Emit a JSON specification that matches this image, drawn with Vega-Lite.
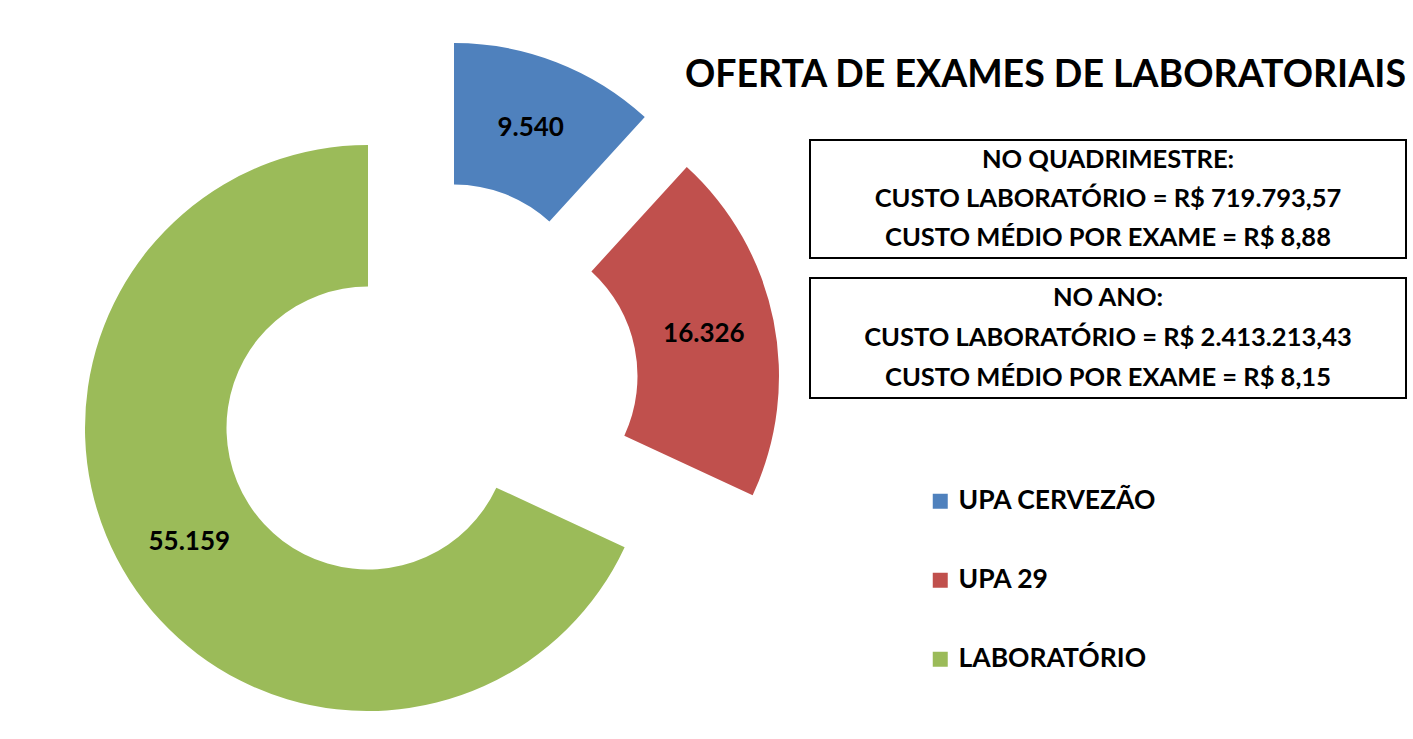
{
  "$schema": "https://vega.github.io/schema/vega-lite/v6.json",
  "background": "white",
  "padding": {"left": 54, "top": 43, "right": 0, "bottom": 0},
  "bounds": "flush",
  "config": {
    "view": {"stroke": null},
    "font": "Lato",
    "concat": {"spacing": 10},
    "locale": {"number": {"decimal": ",", "thousands": ".", "grouping": [3], "currency": ["R$ ", ""]}}
  },
  "datasets": {
    "exames": [
      {"categoria": "UPA CERVEZÃO", "ordem": 1, "exames": 9540},
      {"categoria": "UPA 29", "ordem": 2, "exames": 16326},
      {"categoria": "LABORATÓRIO", "ordem": 3, "exames": 55159}
    ],
    "quadrimestre": [
      {"linha": 1, "texto": "NO QUADRIMESTRE:"},
      {"linha": 2, "texto": "CUSTO LABORATÓRIO = R$ 719.793,57"},
      {"linha": 3, "texto": "CUSTO MÉDIO POR EXAME = R$ 8,88"}
    ],
    "ano": [
      {"linha": 1, "texto": "NO ANO:"},
      {"linha": 2, "texto": "CUSTO LABORATÓRIO = R$ 2.413.213,43"},
      {"linha": 3, "texto": "CUSTO MÉDIO POR EXAME = R$ 8,15"}
    ]
  },
  "hconcat": [
    {
      "width": 746,
      "height": 500,
      "data": {"name": "exames"},
      "encoding": {
        "theta": {"field": "exames", "type": "quantitative", "stack": true},
        "order": {"field": "ordem", "type": "quantitative"}
      },
      "layer": [
        {
          "mark": {"type": "arc", "innerRadius": 141.5, "outerRadius": 283, "xOffset": 27, "yOffset": -64},
          "encoding": {
            "color": {
              "field": "categoria", "type": "nominal",
              "scale": {"domain": ["UPA CERVEZÃO", "UPA 29", "LABORATÓRIO"], "range": ["#4F81BD", "#C0504D", "#9BBB59"]},
              "legend": {
                "title": null, "orient": "none", "legendX": 873, "legendY": 348,
                "symbolType": "square", "symbolSize": 225, "symbolStrokeWidth": 0,
                "labelFont": "Lato", "labelFontSize": 26.5, "labelFontWeight": "bold", "labelColor": "black",
                "labelOffset": 5, "rowPadding": 52, "labelLimit": 400
              }
            },
            "opacity": {"condition": {"test": "datum.categoria === 'UPA CERVEZÃO'", "value": 1}, "value": 0}
          }
        },
        {
          "mark": {"type": "arc", "innerRadius": 141.5, "outerRadius": 283, "xOffset": 69, "yOffset": -14},
          "encoding": {
            "color": {"field": "categoria", "type": "nominal"},
            "opacity": {"condition": {"test": "datum.categoria === 'UPA 29'", "value": 1}, "value": 0}
          }
        },
        {
          "mark": {"type": "arc", "innerRadius": 141.5, "outerRadius": 283, "xOffset": -59, "yOffset": 38},
          "encoding": {
            "color": {"field": "categoria", "type": "nominal"},
            "opacity": {"condition": {"test": "datum.categoria === 'LABORATÓRIO'", "value": 1}, "value": 0}
          }
        },
        {
          "mark": {"type": "text", "radius": 212, "xOffset": 27, "yOffset": -64, "font": "Lato", "fontSize": 26, "fontWeight": "bold", "color": "black"},
          "encoding": {
            "text": {"field": "exames", "type": "quantitative", "format": ",d"},
            "opacity": {"condition": {"test": "datum.categoria === 'UPA CERVEZÃO'", "value": 1}, "value": 0}
          }
        },
        {
          "mark": {"type": "text", "radius": 212, "xOffset": 69, "yOffset": -14, "font": "Lato", "fontSize": 26, "fontWeight": "bold", "color": "black"},
          "encoding": {
            "text": {"field": "exames", "type": "quantitative", "format": ",d"},
            "opacity": {"condition": {"test": "datum.categoria === 'UPA 29'", "value": 1}, "value": 0}
          }
        },
        {
          "mark": {"type": "text", "radius": 212, "xOffset": -59, "yOffset": 38, "font": "Lato", "fontSize": 26, "fontWeight": "bold", "color": "black"},
          "encoding": {
            "text": {"field": "exames", "type": "quantitative", "format": ",d"},
            "opacity": {"condition": {"test": "datum.categoria === 'LABORATÓRIO'", "value": 1}, "value": 0}
          }
        }
      ]
    },
    {
      "title": {
        "text": "OFERTA DE EXAMES DE LABORATORIAIS",
        "anchor": "start", "dx": -124, "offset": 45,
        "font": "Lato", "fontSize": 37.5, "fontWeight": "bold", "color": "black"
      },
      "spacing": 20,
      "bounds": "flush",
      "vconcat": [
        {
          "width": 596,
          "height": 118,
          "view": {"stroke": "black", "strokeWidth": 2},
          "data": {"name": "quadrimestre"},
          "mark": {"type": "text", "font": "Lato", "fontSize": 25.5, "fontWeight": "bold", "color": "black"},
          "encoding": {
            "y": {"field": "linha", "type": "ordinal", "axis": null},
            "text": {"field": "texto", "type": "nominal"}
          }
        },
        {
          "width": 596,
          "height": 120,
          "view": {"stroke": "black", "strokeWidth": 2},
          "data": {"name": "ano"},
          "mark": {"type": "text", "font": "Lato", "fontSize": 25.5, "fontWeight": "bold", "color": "black"},
          "encoding": {
            "y": {"field": "linha", "type": "ordinal", "axis": null},
            "text": {"field": "texto", "type": "nominal"}
          }
        }
      ]
    }
  ]
}
